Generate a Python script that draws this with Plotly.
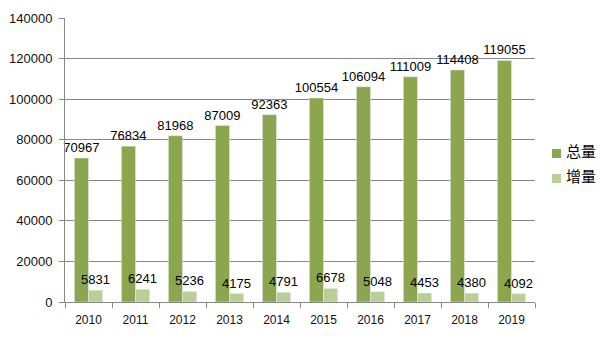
import plotly.graph_objects as go

years = ["2010", "2011", "2012", "2013", "2014", "2015", "2016", "2017", "2018", "2019"]
total = [70967, 76834, 81968, 87009, 92363, 100554, 106094, 111009, 114408, 119055]
increment = [5831, 6241, 5236, 4175, 4791, 6678, 5048, 4453, 4380, 4092]
y_ticks = [0, 20000, 40000, 60000, 80000, 100000, 120000, 140000]
series_names = ["总量", "增量"]
series_colors = ["#8BA64E", "#B9CF96"]

fig = go.Figure()
for name, color, vals in zip(series_names, series_colors, [total, increment]):
    fig.add_trace(go.Bar(
        x=years, y=vals, name=name, marker_color=color, showlegend=False,
        text=[str(v) for v in vals], textposition="outside", cliponaxis=False,
        textfont=dict(family="Liberation Sans, Arial", size=13, color="#000"),
        constraintext="none",
    ))

# Custom legend (placed like the reference, right of plot area)
L, R, T, B = 65, 535, 18, 302
def px_x(p): return (p - L) / (R - L)
def px_y(p): return (B - p) / (B - T)
legend_rows = [153.5, 178.5]
for name, color, cy in zip(series_names, series_colors, legend_rows):
    fig.add_shape(type="rect", xref="paper", yref="paper",
                  x0=px_x(552), x1=px_x(561), y0=px_y(cy + 4.5), y1=px_y(cy - 4.5),
                  fillcolor=color, line=dict(width=0))
    fig.add_annotation(x=px_x(564), y=px_y(cy - 3), xref="paper", yref="paper",
                       text=name, showarrow=False, xanchor="left", yanchor="middle",
                       font=dict(family="Noto Sans CJK SC", size=15, color="#000"))

fig.update_layout(
    width=600, height=339,
    margin=dict(l=L, r=600 - R, t=T, b=339 - B, autoexpand=False),
    paper_bgcolor="white", plot_bgcolor="white",
    barmode="group", bargap=0.4, bargroupgap=0,
    showlegend=False,
    font=dict(family="Liberation Sans, Arial", color="#000"),
)
fig.update_xaxes(
    showline=True, linecolor="#888", linewidth=1,
    ticks="outside", ticklen=5, tickcolor="#888", tickson="boundaries",
    tickfont=dict(family="Liberation Sans, Arial", size=12, color="#111"),
    ticklabelstandoff=7,
    showgrid=False,
)
fig.update_yaxes(
    range=[0, 140000], tickvals=y_ticks, ticktext=[str(v) for v in y_ticks],
    showline=True, linecolor="#888", linewidth=1,
    ticks="outside", ticklen=5, tickcolor="#888",
    showgrid=True, gridcolor="#888", gridwidth=1,
    tickfont=dict(family="Liberation Sans, Arial", size=13, color="#111"),
    ticklabelstandoff=4,
    zeroline=False,
)

fig.write_html("out.html")
